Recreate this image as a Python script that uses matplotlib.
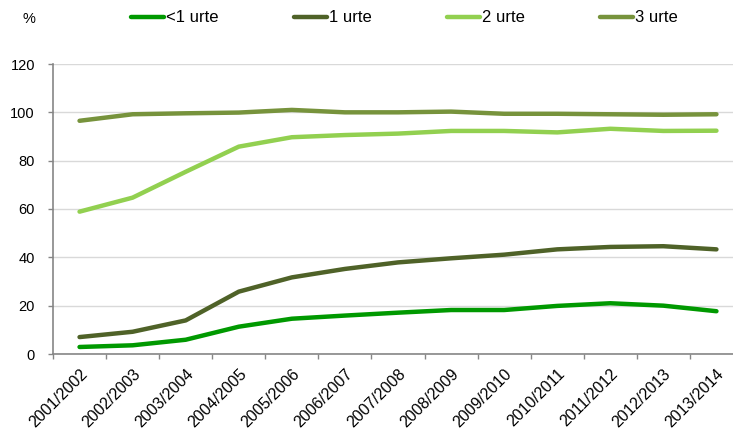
import matplotlib.pyplot as plt
from matplotlib.ticker import FixedLocator

plt.rcParams['font.family'] = ['Liberation Sans', 'DejaVu Sans']

years = ['2001/2002', '2002/2003', '2003/2004', '2004/2005', '2005/2006',
         '2006/2007', '2007/2008', '2008/2009', '2009/2010', '2010/2011',
         '2011/2012', '2012/2013', '2013/2014']
under1 = [2.9, 3.6, 5.9, 11.3, 14.6, 15.9, 17.1, 18.2, 18.2, 19.9, 21.0, 20.0, 17.7]
urte1 = [7.0, 9.2, 13.9, 25.8, 31.7, 35.2, 37.9, 39.6, 41.1, 43.3, 44.3, 44.6, 43.3]
urte2 = [58.9, 64.7, 75.4, 85.8, 89.7, 90.6, 91.2, 92.3, 92.3, 91.7, 93.2, 92.3, 92.4]
urte3 = [96.5, 99.2, 99.6, 99.9, 101.0, 100.0, 100.0, 100.3, 99.4, 99.4, 99.2, 99.0, 99.2]

series = [('<1 urte', under1, '#009900'),
          ('1 urte', urte1, '#4F6228'),
          ('2 urte', urte2, '#92D050'),
          ('3 urte', urte3, '#77933C')]

fig = plt.figure(figsize=(7.33, 4.34), dpi=100)
# axes run a little past the right edge, like the cropped original
ax = fig.add_axes([53 / 733, 80 / 434, 690 / 733, 290 / 434])

x = list(range(len(years)))
lines = []
for name, vals, col in series:
    ln, = ax.plot(x, vals, color=col, lw=3.2, solid_capstyle='round',
                  solid_joinstyle='round', label=name, zorder=3)
    lines.append(ln)

ax.set_xlim(-0.5, len(years) - 0.5)
ax.set_ylim(0, 120)
ax.set_yticks(range(0, 121, 20))
ax.yaxis.grid(True, color='#D9D9D9', lw=1.0)
ax.set_axisbelow(True)
ax.tick_params(axis='y', length=3.6, width=1, color='#868686', pad=9.4,
               labelsize=10.5, labelcolor='black')

ax.set_xticks(x)
ax.set_xticklabels(years, rotation=45, ha='right', rotation_mode='anchor', fontsize=11.5)
ax.xaxis.set_minor_locator(FixedLocator([i - 0.5 for i in range(len(years) + 1)]))
ax.tick_params(axis='x', which='major', length=0, pad=9)
ax.tick_params(axis='x', which='minor', length=3.6, color='#868686', width=1)

for s in ['right', 'top']:
    ax.spines[s].set_visible(False)
for s in ['left', 'bottom']:
    ax.spines[s].set_color('#868686')
    ax.spines[s].set_linewidth(1.2)

fig.text(29 / 733, 1 - 19 / 434, '%', fontsize=10.5, ha='center', va='center')

fig.legend(handles=lines, loc='center left', bbox_to_anchor=(131 / 733, 1 - 18 / 434),
           ncol=4, frameon=False, fontsize=12, handlelength=2.0,
           handletextpad=0.12, columnspacing=4.5, borderaxespad=0, borderpad=0)

fig.savefig('out.png', dpi=100)
